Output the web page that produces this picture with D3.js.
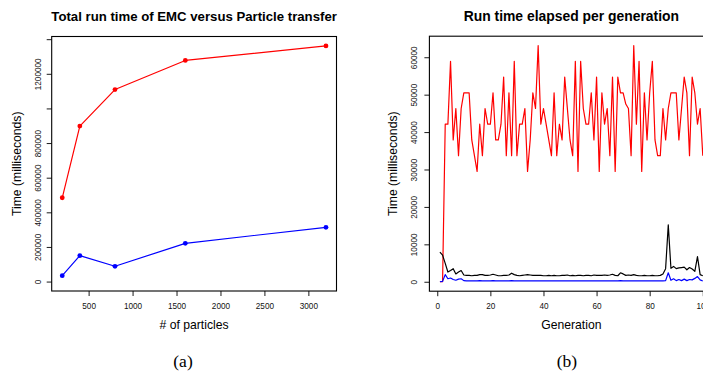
<!DOCTYPE html>
<html><head><meta charset="utf-8">
<script src="https://cdn.jsdelivr.net/npm/d3@7"></script>
<style>
body{margin:0;background:#fff}
svg{display:block}
text{font-family:"Liberation Sans",Arial,Helvetica,sans-serif}
text.cap{font-family:"Liberation Serif","Times New Roman",serif}
</style>
</head><body>
<svg id="c" width="703" height="375"></svg>
<script>
// ---------- Panel (a) data ----------
const particles = [200, 400, 800, 1600, 3200];
const emcTotal  = [484000, 898000, 1109000, 1277000, 1361000];
const ptTotal   = [34000, 149500, 88300, 221000, 313400];
const leftXTicks  = [500, 1000, 1500, 2000, 2500, 3000];
const leftYTicks  = [0, 200000, 400000, 600000, 800000, 1000000, 1200000, 1400000];
const leftYLabels = ["0", "200000", "400000", "600000", "800000", "", "1200000", ""];

// ---------- Panel (b) data ----------
const generations = [1,2,3,4,5,6,7,8,9,10,11,12,13,14,15,16,17,18,19,20,
  21,22,23,24,25,26,27,28,29,30,31,32,33,34,35,36,37,38,39,40,
  41,42,43,44,45,46,47,48,49,50,51,52,53,54,55,56,57,58,59,60,
  61,62,63,64,65,66,67,68,69,70,71,72,73,74,75,76,77,78,79,80,
  81,82,83,84,85,86,87,88,89,90,91,92,93,94,95,96,97,98,99,100];
const emcGen = [0,0,42100,42100,58900,37900,46300,33700,46300,50500,
  50500,50500,37900,33700,29500,42100,33700,46300,42100,42100,
  50500,37900,37900,42100,54700,33700,50500,33700,58900,33700,
  42100,42100,46300,29500,37900,50500,46300,63100,42100,46300,
  42100,37900,33700,50500,33700,42100,37900,54700,46300,37900,
  33700,58900,29500,58900,46300,42100,42100,50500,37900,54700,
  29500,50500,42100,46300,33700,54700,29500,54700,50500,50500,
  47500,46300,33700,63100,42100,58900,29500,50500,37900,50500,
  58900,37900,33700,33700,46300,37900,46300,50500,50500,50500,
  37900,46300,54700,50500,33700,54700,50500,42100,46300,33700];
const totalGen = [7900,7100,4900,2600,3000,3500,2100,2600,3000,1800,
  1700,1700,1600,1700,1700,1900,1900,1700,1700,1800,
  2000,1800,1600,1600,1700,1700,1800,2300,1900,1700,
  1600,1700,1800,1900,1800,1700,1700,1700,1700,1600,
  1600,1700,1600,1700,1600,1600,1700,1700,1800,1600,
  1700,1600,1700,1700,1600,1700,1700,1600,1800,1700,
  1700,1700,1800,1700,1800,2000,1700,1600,2400,2100,
  1700,1800,1700,1900,1700,1600,1600,1700,1600,1600,
  1700,1600,1600,1700,2100,3500,15200,3600,4100,3500,
  3700,3800,3900,3200,3800,3400,2800,6700,1900,1600];
const ptGen = [0,100,1900,800,1000,600,400,700,800,300,
  250,250,250,250,250,300,250,250,250,250,
  300,250,250,250,250,250,250,300,250,250,
  250,250,250,250,250,250,250,250,250,250,
  250,250,250,250,250,250,250,250,250,250,
  250,250,250,250,250,250,250,250,250,250,
  250,250,250,250,250,250,250,250,300,250,
  250,250,250,250,250,250,250,250,250,250,
  250,250,250,250,250,300,2400,400,800,300,
  600,300,700,300,600,500,900,1400,500,200];
const rightXTicks = [0, 20, 40, 60, 80, 100];
const rightYTicks = [0, 10000, 20000, 30000, 40000, 50000, 60000];

const svg = d3.select("#c");
svg.append("rect").attr("width",703).attr("height",375).attr("fill","#fff");

function pad(lo, hi){ const d=(hi-lo)*0.04; return [lo-d, hi+d]; }

function panel(o){
  const g = svg.append("g");
  const x = d3.scaleLinear().domain(o.xDomain).range(o.xRange);
  const y = d3.scaleLinear().domain(o.yDomain).range(o.yRange);

  // x axis
  const xa = g.append("g").attr("transform",`translate(0,${o.yRange[0]})`)
    .call(d3.axisBottom(x).tickValues(o.xTicks).tickSize(5).tickSizeOuter(0).tickFormat(d3.format("d")));
  xa.select(".domain").remove();
  xa.selectAll("line").attr("stroke","#000").attr("stroke-width",0.9);
  xa.selectAll("text").attr("y",17.8).attr("dy",0).attr("font-size",8.2)
    .attr("fill","#111").attr("font-family",null);

  // y axis
  const ya = g.append("g").attr("transform",`translate(${o.xRange[0]},0)`)
    .call(d3.axisLeft(y).tickValues(o.yTicks).tickSize(5).tickSizeOuter(0)
      .tickFormat((d,i)=>o.yLabels[i]));
  ya.select(".domain").remove();
  ya.selectAll("line").attr("stroke","#000").attr("stroke-width",0.9);
  ya.selectAll("text").attr("x",0).attr("y",-o.yLabOff).attr("dy",0)
    .attr("text-anchor","middle").attr("transform","rotate(-90)")
    .attr("font-size",8.2).attr("fill","#111");

  // series
  const clipId = "clip"+o.id;
  svg.append("clipPath").attr("id",clipId).append("rect")
    .attr("x",o.xRange[0]).attr("y",o.yRange[1])
    .attr("width",o.xRange[1]-o.xRange[0]).attr("height",o.yRange[0]-o.yRange[1]);
  const sg = g.append("g").attr("clip-path",`url(#${clipId})`);
  o.series.forEach(s=>{
    const line = d3.line().x((d,i)=>x(o.xs[i])).y(d=>y(d));
    sg.append("path").datum(s.values).attr("d",line)
      .attr("fill","none").attr("stroke",s.color).attr("stroke-width",1.2)
      .attr("stroke-linejoin","round");
    if(o.points){
      sg.selectAll(null).data(s.values).enter().append("circle")
        .attr("cx",(d,i)=>x(o.xs[i])).attr("cy",d=>y(d)).attr("r",2.4).attr("fill",s.color);
    }
  });

  // box
  g.append("rect").attr("x",o.xRange[0]).attr("y",o.yRange[1])
    .attr("width",o.xRange[1]-o.xRange[0]).attr("height",o.yRange[0]-o.yRange[1])
    .attr("fill","none").attr("stroke","#000").attr("stroke-width",1.1);

  const cx = (o.xRange[0]+o.xRange[1])/2, cy=(o.yRange[0]+o.yRange[1])/2;
  g.append("text").attr("x",cx).attr("y",20.7).attr("text-anchor","middle")
    .attr("font-weight","bold").attr("font-size",o.titleSize).text(o.title);
  g.append("text").attr("x",cx).attr("y",328.8).attr("text-anchor","middle")
    .attr("font-size",12.2).text(o.xLabel);
  g.append("text").attr("transform",`translate(${o.yTitleX},${cy}) rotate(-90)`)
    .attr("text-anchor","middle").attr("font-size",12.2).text("Time (milliseconds)");
  svg.append("text").attr("class","cap").attr("x",o.capX).attr("y",367).attr("text-anchor","middle")
    .attr("font-size",17.5).text(o.caption);
}

const leftMax = d3.max(emcTotal.concat(ptTotal));
panel({
  id:"a", xs:particles,
  xDomain: pad(d3.min(particles), d3.max(particles)),
  yDomain: pad(0, leftMax),
  xRange:[51.7, 336.5], yRange:[291, 36.5],
  xTicks:leftXTicks, yTicks:leftYTicks, yLabels:leftYLabels, yLabOff:10.4,
  series:[{values:emcTotal,color:"#ff0000"},{values:ptTotal,color:"#0000ff"}],
  points:true,
  title:"Total run time of EMC versus Particle transfer", titleSize:13.2,
  xLabel:"# of particles", yTitleX:20.7, capX:183, caption:"(a)"
});

const rightMax = d3.max(emcGen.concat(totalGen, ptGen));
panel({
  id:"b", xs:generations,
  xDomain: pad(d3.min(generations), d3.max(generations)),
  yDomain: pad(0, rightMax),
  xRange:[429.4, 713.3], yRange:[291.2, 36.2],
  xTicks:rightXTicks, yTicks:rightYTicks, yLabels:rightYTicks.map(String), yLabOff:12.4,
  series:[{values:emcGen,color:"#ff0000"},{values:totalGen,color:"#000000"},{values:ptGen,color:"#0000ff"}],
  points:false,
  title:"Run time elapsed per generation", titleSize:13.9,
  xLabel:"Generation", yTitleX:397.4, capX:567, caption:"(b)"
});
</script>
</body></html>
